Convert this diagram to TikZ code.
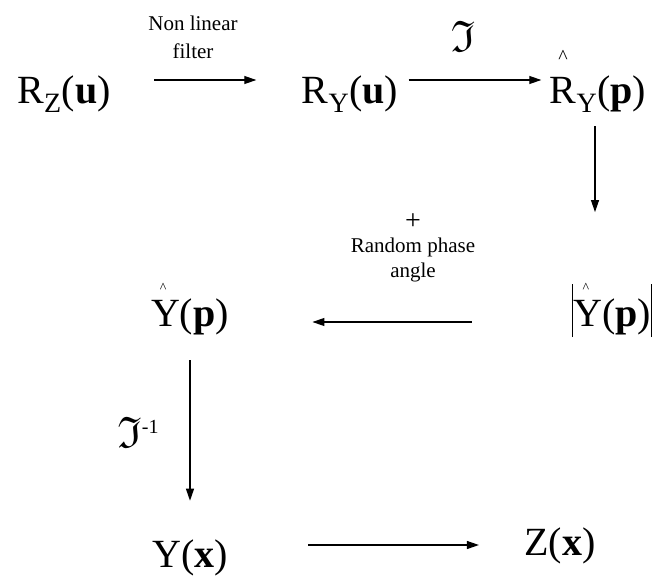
\documentclass[tikz,border=0pt]{standalone}
\usepackage{amssymb}
\usepackage{fontspec}
\setmainfont{Liberation Serif}
\usetikzlibrary{arrows.meta,positioning}

% small hat that sits above a letter: #1 size, #2 shift right, #3 raise, #4 letter
\newcommand{\tophat}[4]{\makebox[0pt][l]{\hspace*{#2}\raisebox{#3}{\fontsize{#1}{#1}\selectfont\textasciicircum}}#4}
\newcommand{\absbar}{\vrule width 0.8pt height 1.05em depth 0.28em}

\begin{document}
\begin{tikzpicture}[
  x=1pt, y=-1pt,
  >={Triangle[length=12pt,width=8pt]},
  line width=1.1pt,
  term/.style={anchor=base, inner sep=0pt, font=\fontsize{40}{44}\selectfont},
  note/.style={align=center, inner sep=0pt, font=\fontsize{21}{25}\selectfont},
  frak/.style={inner sep=0pt, font=\fontsize{44}{44}\selectfont},
  flow/.style={->, draw=black, line width=1.1pt}
]
  \useasboundingbox (0,0) rectangle (658,578);

  \node[term] (rz) at (64,103) {R\textsubscript{Z}(\textbf{u})};
  \node[term] (ryu) at (350,103) {R\textsubscript{Y}(\textbf{u})};
  \node[term] (ryp) at (598,103) {\tophat{20}{0.21em}{1.0em}{R}\textsubscript{Y}(\textbf{p})};
  \node[term] (yabs) at (612,326) {\absbar\tophat{14}{0.24em}{0.83em}{Y}(\textbf{p})\absbar};
  \node[term] (yp) at (190,326) {\tophat{14}{0.22em}{0.83em}{Y}(\textbf{p})};
  \node[term] (yx) at (190,567) {Y(\textbf{x})};
  \node[term] (zx) at (560,555) {Z(\textbf{x})};

  \node[note] (filter) at (193,37) {Non linear\\[3pt]filter};
  \node[frak] (ft) at (463,36) {$\mathfrak{I}$};
  \node[note] (phase) at (413,248) {{\fontsize{28}{28}\selectfont +}\\[-2pt]Random phase\\[0pt]angle};
  \node[frak] (ftinv) at (138,432) {$\mathfrak{I}$\raisebox{0.32em}{\fontsize{20}{20}\selectfont -1}};

  \draw[flow, shorten <=43pt, shorten >=45pt] ([yshift=23pt]rz.base east) -- ([yshift=23pt]ryu.base west);
  \draw[flow, shorten <=10pt, shorten >=8pt] ([yshift=23pt]ryu.base east) -- ([yshift=23pt]ryp.base west);
  \draw[flow] ([xshift=-3pt,yshift=-13pt]ryp.south) -- ([xshift=-17pt,yshift=71pt]yabs.north);
  \draw[flow, shorten <=100pt, shorten >=83pt] ([yshift=4pt]yabs.base west) -- ([yshift=4pt]yp.base east);
  \draw[flow] ([yshift=-25pt]yp.south) -- ([yshift=38pt]yx.north);
  \draw[flow, shorten <=80pt, shorten >=45pt] ([yshift=22pt]yx.base east) -- ([yshift=10pt]zx.base west);
\end{tikzpicture}
\end{document}
